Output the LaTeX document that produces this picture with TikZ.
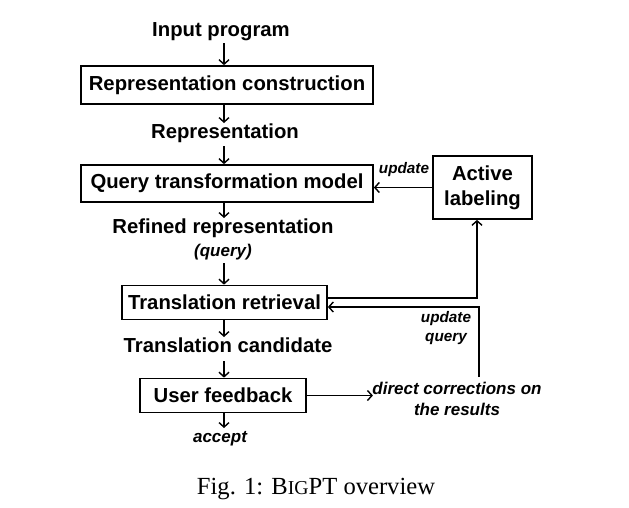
\documentclass[tikz,border=0pt]{standalone}
\usepackage{fontspec}
\setmainfont{Liberation Serif}
\setsansfont{Liberation Sans}
\usepackage{tikz}
\usetikzlibrary{arrows.meta}
\tikzset{
  >={Straight Barb[length=4.5pt,width=10pt]},
  x=1pt, y=-1pt,
}
\tikzstyle{every node}=[font=\sffamily\bfseries\fontsize{20.3}{23}\selectfont]
\tikzstyle{box}=[draw, line width=1.7pt, inner sep=0pt]
\tikzstyle{flow}=[line width=1.4pt, ->]
\tikzstyle{note}=[font=\sffamily\bfseries\itshape\fontsize{17}{20}\selectfont]
\tikzstyle{small note}=[font=\sffamily\bfseries\itshape\fontsize{15.3}{18}\selectfont]

\begin{document}
\begin{tikzpicture}
    \useasboundingbox (0,0) rectangle (629,507);
    % main column
    \node[anchor=base] (inp) at (221,36) {Input program};
    \node[box, minimum width=292pt, minimum height=38pt] (rc) at (227,85) {Representation construction};
    \node[anchor=base] (rep) at (225,138) {Representation};
    \node[box, minimum width=292pt, minimum height=37pt] (qtm) at (227,183.5) {Query transformation model};
    \node[anchor=base] (ref) at (223,233) {Refined representation};
    \node[note, anchor=base] (qry) at (223,256) {(query)};
    \node[box, minimum width=205pt, minimum height=34pt] (tr) at (224.5,302.5) {Translation retrieval};
    \node[anchor=base] (cand) at (228,352) {Translation candidate};
    \node[box, minimum width=166pt, minimum height=34pt] (uf) at (223,395.5) {User feedback};
    \node[note, anchor=base] (acc) at (220,442) {accept};
    % right side
    \node[box, minimum width=99pt, minimum height=63pt, align=center,
          font=\sffamily\bfseries\fontsize{20.3}{25}\selectfont] (act) at (482.5,187.5) {Active\\labeling};
    \node[note, align=center, font=\sffamily\bfseries\itshape\fontsize{17}{21}\selectfont] (dcr) at (457,399) {direct corrections on\\the results};
    \node[small note, anchor=base] (upd) at (404,173) {update};
    \node[small note, align=center, font=\sffamily\bfseries\itshape\fontsize{15.3}{19}\selectfont] (updq) at (446,328) {update\\query};
    \coordinate (c1) at (477,298);
    \coordinate (c2) at (479,307);
    \coordinate (c3) at (479,377);
    % arrows
    \draw[flow] (224,43) -- (rc.north -| 224,0);
    \draw[flow] (rc.south -| 224,0) -- (224,123);
    \draw[flow] (224,146) -- (qtm.north -| 224,0);
    \draw[flow] (qtm.south -| 224,0) -- (224,218);
    \draw[flow] (224,263) -- (tr.north -| 224,0);
    \draw[flow] (tr.south -| 224,0) -- (224,337);
    \draw[flow] (224,361) -- (uf.north -| 224,0);
    \draw[flow] (uf.south -| 224,0) -- (224,428);
    \draw[flow] (act.west) -- (act.west -| qtm.east);
    \draw[flow] (tr.east |- c1) -- (c1) -- (c1 |- act.south);
    \draw[flow] (c3) -- (c2) -- (tr.east |- c2);
    \draw[flow] (uf.east) -- ([xshift=4pt]dcr.west |- uf.east);
    % caption
    \node[font=\rmfamily\fontsize{24.6}{28}\selectfont, anchor=base] (cap) at (316,494)
      {Fig. 1: B{\fontsize{19.7}{28}\selectfont IG}PT overview};
\end{tikzpicture}
\end{document}
